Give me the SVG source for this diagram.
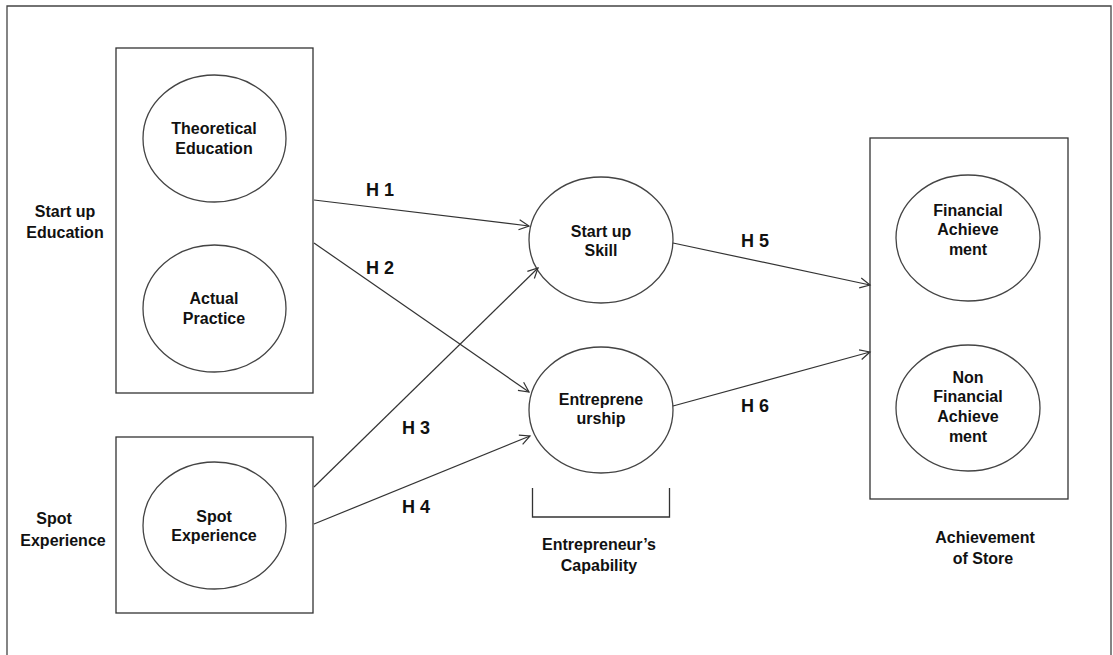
<svg xmlns="http://www.w3.org/2000/svg" width="1113" height="655" viewBox="0 0 1113 655">
<style>
.box{fill:none;stroke:#333;stroke-width:1.3}
.ell{fill:#fff;stroke:#444;stroke-width:1.3}
.t{font-family:"Liberation Sans",Arial,sans-serif;font-weight:bold;font-size:16px;fill:#111;text-anchor:middle}
.h{font-family:"Liberation Sans",Arial,sans-serif;font-weight:bold;font-size:18px;fill:#111;text-anchor:middle}
.c{fill:none;stroke:#333;stroke-width:1.2}
</style>
<defs>
<marker id="ar" markerWidth="14" markerHeight="14" refX="12" refY="7" orient="auto" markerUnits="userSpaceOnUse">
<path d="M2,2 L12,7 L2,12" fill="none" stroke="#333" stroke-width="1.2"/>
</marker>
</defs>
<rect width="1113" height="655" fill="#fff"/>
<path d="M7,655 V6 H1111 V655" fill="none" stroke="#444" stroke-width="1.3"/>

<g id="startup-education">
<rect class="box" x="116" y="48" width="197" height="345"/>
<text class="t" x="65" y="217">Start up</text>
<text class="t" x="65" y="238">Education</text>
</g>
<g id="theoretical-education">
<ellipse class="ell" cx="214.5" cy="138.5" rx="71.5" ry="63.5"/>
<text class="t" x="214" y="134">Theoretical</text>
<text class="t" x="214" y="154">Education</text>
</g>
<g id="actual-practice">
<ellipse class="ell" cx="214.5" cy="308.5" rx="71.5" ry="63.5"/>
<text class="t" x="214" y="304">Actual</text>
<text class="t" x="214" y="324">Practice</text>
</g>
<g id="spot-experience-box">
<rect class="box" x="116" y="437" width="197" height="176"/>
<text class="t" x="54" y="524">Spot</text>
<text class="t" x="63" y="546">Experience</text>
</g>
<g id="spot-experience">
<ellipse class="ell" cx="214.5" cy="525.5" rx="71.5" ry="63.5"/>
<text class="t" x="214" y="522">Spot</text>
<text class="t" x="214" y="541">Experience</text>
</g>
<g id="startup-skill">
<ellipse class="ell" cx="601" cy="240" rx="72" ry="63"/>
<text class="t" x="601" y="237">Start up</text>
<text class="t" x="601" y="256">Skill</text>
</g>
<g id="entrepreneurship">
<ellipse class="ell" cx="601" cy="410" rx="72" ry="63"/>
<text class="t" x="601" y="405">Entreprene</text>
<text class="t" x="601" y="424">urship</text>
</g>
<g id="entrepreneurs-capability">
<path class="box" d="M532.5,488 V517 H669.5 V488"/>
<text class="t" x="599" y="550">Entrepreneur’s</text>
<text class="t" x="599" y="571">Capability</text>
</g>
<g id="achievement-of-store">
<rect class="box" x="870" y="138" width="198" height="361"/>
<text class="t" x="985" y="543">Achievement</text>
<text class="t" x="983" y="564">of Store</text>
</g>
<g id="financial-achievement">
<ellipse class="ell" cx="968" cy="238" rx="72" ry="63"/>
<text class="t" x="968" y="216">Financial</text>
<text class="t" x="968" y="235">Achieve</text>
<text class="t" x="968" y="255">ment</text>
</g>
<g id="non-financial-achievement">
<ellipse class="ell" cx="968" cy="408" rx="72" ry="63"/>
<text class="t" x="968" y="383">Non</text>
<text class="t" x="968" y="402">Financial</text>
<text class="t" x="968" y="422">Achieve</text>
<text class="t" x="968" y="442">ment</text>
</g>

<g id="connectors">
<line class="c" x1="314" y1="200" x2="529" y2="226" marker-end="url(#ar)"/>
<line class="c" x1="314" y1="243" x2="529" y2="392" marker-end="url(#ar)"/>
<line class="c" x1="314" y1="487" x2="538" y2="268" marker-end="url(#ar)"/>
<line class="c" x1="314" y1="524" x2="530" y2="436" marker-end="url(#ar)"/>
<line class="c" x1="673" y1="243" x2="870" y2="285" marker-end="url(#ar)"/>
<line class="c" x1="673" y1="406" x2="870" y2="352" marker-end="url(#ar)"/>
<text class="h" x="380" y="196">H 1</text>
<text class="h" x="380" y="274">H 2</text>
<text class="h" x="416" y="434">H 3</text>
<text class="h" x="416" y="513">H 4</text>
<text class="h" x="755" y="247">H 5</text>
<text class="h" x="755" y="412">H 6</text>
</g>
</svg>
